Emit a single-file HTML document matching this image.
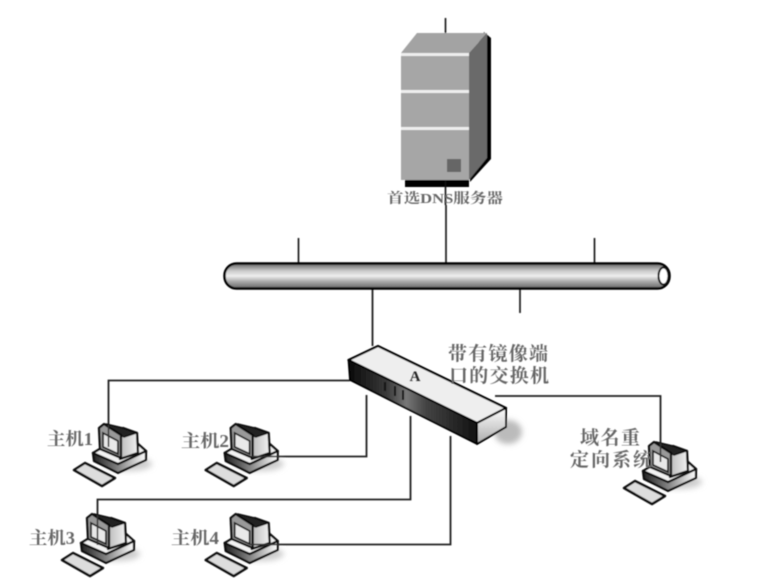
<!DOCTYPE html>
<html lang="zh">
<head>
<meta charset="utf-8">
<title>DNS</title>
<style>
html,body{margin:0;padding:0;background:#fff;width:768px;height:586px;overflow:hidden}
svg{display:block}
text{font-family:"Liberation Serif","Noto Serif CJK SC",serif;fill:#666}
</style>
</head>
<body>
<svg width="768" height="586" viewBox="0 0 768 586" xmlns="http://www.w3.org/2000/svg">
<defs>
<linearGradient id="bus" x1="0" y1="0" x2="0" y2="1">
<stop offset="0" stop-color="#666"/><stop offset=".3" stop-color="#ccc"/><stop offset=".5" stop-color="#eee"/><stop offset=".72" stop-color="#aaa"/><stop offset="1" stop-color="#666"/>
</linearGradient>
<linearGradient id="front" x1="0" y1="0" x2="1" y2="0">
<stop offset="0" stop-color="#0a0a0a"/><stop offset=".3" stop-color="#3a3a3a"/><stop offset=".45" stop-color="#777"/><stop offset=".6" stop-color="#444"/><stop offset="1" stop-color="#111"/>
</linearGradient>
<linearGradient id="end" x1="0" y1="0" x2="0" y2="1">
<stop offset="0" stop-color="#fff"/><stop offset="1" stop-color="#aaa"/>
</linearGradient>
<linearGradient id="base" x1="0" y1="0" x2="1" y2="0">
<stop offset="0" stop-color="#222"/><stop offset=".5" stop-color="#888"/><stop offset="1" stop-color="#fff"/>
</linearGradient>
<linearGradient id="body" x1="0" y1="0" x2="1" y2="0">
<stop offset="0" stop-color="#bbb"/><stop offset="1" stop-color="#f2f2f2"/>
</linearGradient>
<filter id="soft" x="-5%" y="-5%" width="110%" height="110%"><feGaussianBlur stdDeviation="0.6"/></filter>
<filter id="shadow" x="-30%" y="-30%" width="160%" height="160%"><feGaussianBlur stdDeviation="3"/></filter>
<g id="pc">
<ellipse cx="128" cy="464" rx="24" ry="7" fill="#ccc" filter="url(#shadow)"/>
<path d="M74 470 L85 463 L115 478 L102 486 Z" fill="#ddd" stroke="#111" stroke-width="2.500" stroke-linejoin="round"/>
<path d="M93 453 L94 461 L118 473 L146 460 L146 451 L118 464 Z" fill="url(#base)" stroke="#111" stroke-width="2.300" stroke-linejoin="round"/>
<path d="M93 453 L103 447 L137 443 L146 451 L118 464 Z" fill="#f2f2f2" stroke="#111" stroke-width="2.300" stroke-linejoin="round"/>
<path d="M120 432 L123 428 L137 433 L138 453 L120 459 Z" fill="url(#body)" stroke="#111" stroke-width="2.300" stroke-linejoin="round"/>
<path d="M106 424 L123 428 L136 433 L124 437 L108 430 Z" fill="#222" stroke="#111" stroke-width="1.500" stroke-linejoin="round"/>
<path d="M99 428 L104 424 L121 435 L121 458 L100 449 Z" fill="#999" stroke="#111" stroke-width="2.300" stroke-linejoin="round"/>
<path d="M103 433 L118 441 L118 454 L103 447 Z" fill="#e8e8e8" stroke="#222" stroke-width="1.800"/>
</g>
</defs>

<g filter="url(#soft)">
<!-- server -->
<path d="M405 180 H469 V187 H405 Z" fill="#000"/>
<path d="M470 182 L491 159 V38 L484 32 L470 60 Z" fill="#000"/>
<path d="M401 53 L417 33 H487 L469 53 Z" fill="#a3a3a3"/>
<path d="M469 53 L487 33 V158 L469 180 Z" fill="#6a6a6a"/>
<rect x="401" y="53" width="68" height="127" fill="#a6a6a6"/>
<rect x="401" y="53" width="68" height="3" fill="#eee"/>
<rect x="401" y="90" width="68" height="3" fill="#eee"/>
<rect x="401" y="127" width="68" height="3" fill="#eee"/>
<rect x="447" y="159" width="14" height="13" fill="#666"/>

<!-- server connectors -->
<path d="M445.500 18 V33" stroke="#111" stroke-width="1.600" fill="none"/>
<path d="M445.500 180 V205 M446 205 V263" stroke="#111" stroke-width="1.600" fill="none"/>

<!-- bus stubs -->
<path d="M298.500 238 V264 M594.500 238 V264 M520 289 V313" stroke="#111" stroke-width="1.600" fill="none"/>
<path d="M372.500 289 V346" stroke="#222" stroke-width="1.800" fill="none"/>

<!-- bus -->
<rect x="224.500" y="263.500" width="445" height="25" rx="12" ry="12" fill="url(#bus)" stroke="#000" stroke-width="2.500"/>
<ellipse cx="663.500" cy="276" rx="5" ry="8.500" fill="#fff" stroke="#111" stroke-width="2"/>

<!-- connectors -->
<g fill="none" stroke="#222" stroke-width="1.800">
<path d="M108.500 445 V380.500 H350"/>
<path d="M252 456.500 H366.500 V395"/>
<path d="M97.500 545 V499.500 H410.500 V416"/>
<path d="M250 544.500 H450.500 V436"/>
<path d="M495 396 H660.500 V446"/>
</g>

<!-- computers -->
<use href="#pc"/>
<use href="#pc" x="131.700"/>
<use href="#pc" x="-12" y="90"/>
<use href="#pc" x="131.700" y="90"/>
<use href="#pc" x="550" y="18"/>

<!-- redraw lines over monitors -->
<g fill="none" stroke="#333" stroke-width="1.500">
<path d="M108.500 425 V447"/>
<path d="M97.500 515 V545"/>
<path d="M252 456.500 H280"/>
<path d="M250 544.500 H280"/>
<path d="M660.500 443 V462"/>
</g>

<!-- switch -->
<ellipse cx="508" cy="432" rx="14" ry="12" fill="#bbb" filter="url(#shadow)"/>
<path d="M348.500 360 L378 346 L506 408 L477 423 Z" fill="#eee" stroke="#000" stroke-width="2.300" stroke-linejoin="round"/>
<path d="M348.500 360 L477 423 V444 L350 380 Z" fill="url(#front)" stroke="#000" stroke-width="1.800" stroke-linejoin="round"/>
<path d="M477 423 L506 408 V427 L477 444 Z" fill="url(#end)" stroke="#000" stroke-width="2" stroke-linejoin="round"/>
<path d="M385 382 V391 M395 386 V396 M403 390 V400" stroke="#111" stroke-width="2" fill="none"/>
</g>

<g filter="url(#soft)">
<text x="415" y="381" font-size="15" text-anchor="middle" font-weight="bold" style="fill:#222">A</text>
<text x="387" y="203" font-size="14" textLength="116" lengthAdjust="spacingAndGlyphs" font-weight="bold">首选DNS服务器</text>
<text x="448" y="360" font-size="19" textLength="100" font-weight="bold">带有镜像端</text>
<text x="449" y="382" font-size="19" textLength="100" font-weight="bold">口的交换机</text>
<text x="47" y="445" font-size="17.500" textLength="46" lengthAdjust="spacingAndGlyphs" font-weight="bold">主机1</text>
<text x="181" y="447" font-size="17.500" textLength="48" lengthAdjust="spacingAndGlyphs" font-weight="bold">主机2</text>
<text x="29" y="544" font-size="17.500" textLength="46" lengthAdjust="spacingAndGlyphs" font-weight="bold">主机3</text>
<text x="171" y="544" font-size="17.500" textLength="48" lengthAdjust="spacingAndGlyphs" font-weight="bold">主机4</text>
<text x="580" y="444" font-size="19" textLength="60" font-weight="bold">域名重</text>
<text x="570" y="466" font-size="19" textLength="82" font-weight="bold">定向系统</text>
</g>
</svg>
</body>
</html>
